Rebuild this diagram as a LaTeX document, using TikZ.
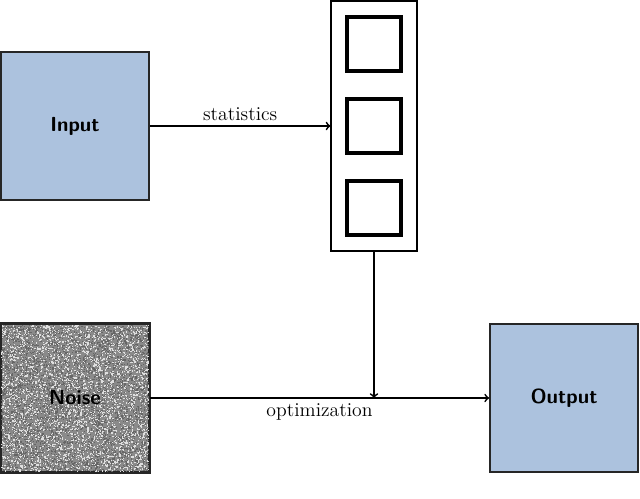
\documentclass[tikz,border=0pt]{standalone}
\usepackage{xcolor}
\usepackage{tikz}
\usetikzlibrary{calc}
\usetikzlibrary{arrows}
\usetikzlibrary{positioning}

\definecolor{texblue}{RGB}{172,194,222}
\definecolor{noisegray}{RGB}{138,138,138}

\tikzset{
  imgbox/.style={draw=black!85, line width=1.3pt, minimum size=3.7cm, inner sep=0pt},
  imglabel/.style={font=\fontsize{14.5}{17}\selectfont\sffamily\bfseries},
  cellbox/.style={draw, line width=2.6pt, minimum size=1.35cm, inner sep=0pt},
  flow/.style={->, line width=1.2pt},
  flowlabel/.style={font=\fontsize{14}{16}\selectfont},
}

\begin{document}
\begin{tikzpicture}[x=0.025cm, y=-0.025cm]
			\useasboundingbox (0,0) rectangle (640,499);
			% images
			\node[imgbox, fill=texblue] at(75, 126) (input){};
			\node[imgbox, fill=noisegray] at(75, 398) (noise){};
			\node[imgbox, fill=texblue] at(564, 398) (output){};
			% noise texture
			\begin{scope}
				\clip (noise.south west) rectangle (noise.north east);
				\pgfmathsetseed{42}
				\foreach \i in {1,...,3600} {
					\fill[white!75!gray] ({rnd*148+1}, {rnd*146+325}) rectangle +(1.2,1.2);
					\fill[black!60] ({rnd*148+1}, {rnd*146+325}) rectangle +(1.2,1.2);
				}
			\end{scope}
			\draw[draw=black!85, line width=1.3pt] (noise.south west) rectangle (noise.north east);
			\node[imglabel] at(input) {Input};
			\node[imglabel] at(noise) {Noise};
			\node[imglabel] at(output) {Output};
			% statistics column
			\node[draw, line width=0.8pt, minimum width=2.15cm, minimum height=6.25cm, inner sep=0pt] at(374, 126) (stats){};
			\node[cellbox] at(374, 44) (c1){};
			\node[cellbox] at(374, 126) (c2){};
			\node[cellbox] at(374, 208) (c3){};
			% connectors
			\coordinate (merge) at(374, 398);
			\draw[flow] (input.east) -- node[above, flowlabel]{statistics} (stats.west);
			\draw[flow] (noise.east) -- node[below, pos=0.5, flowlabel]{optimization} (output.west);
			\draw[flow] (stats.south) -- (merge);
		\end{tikzpicture}
\end{document}
